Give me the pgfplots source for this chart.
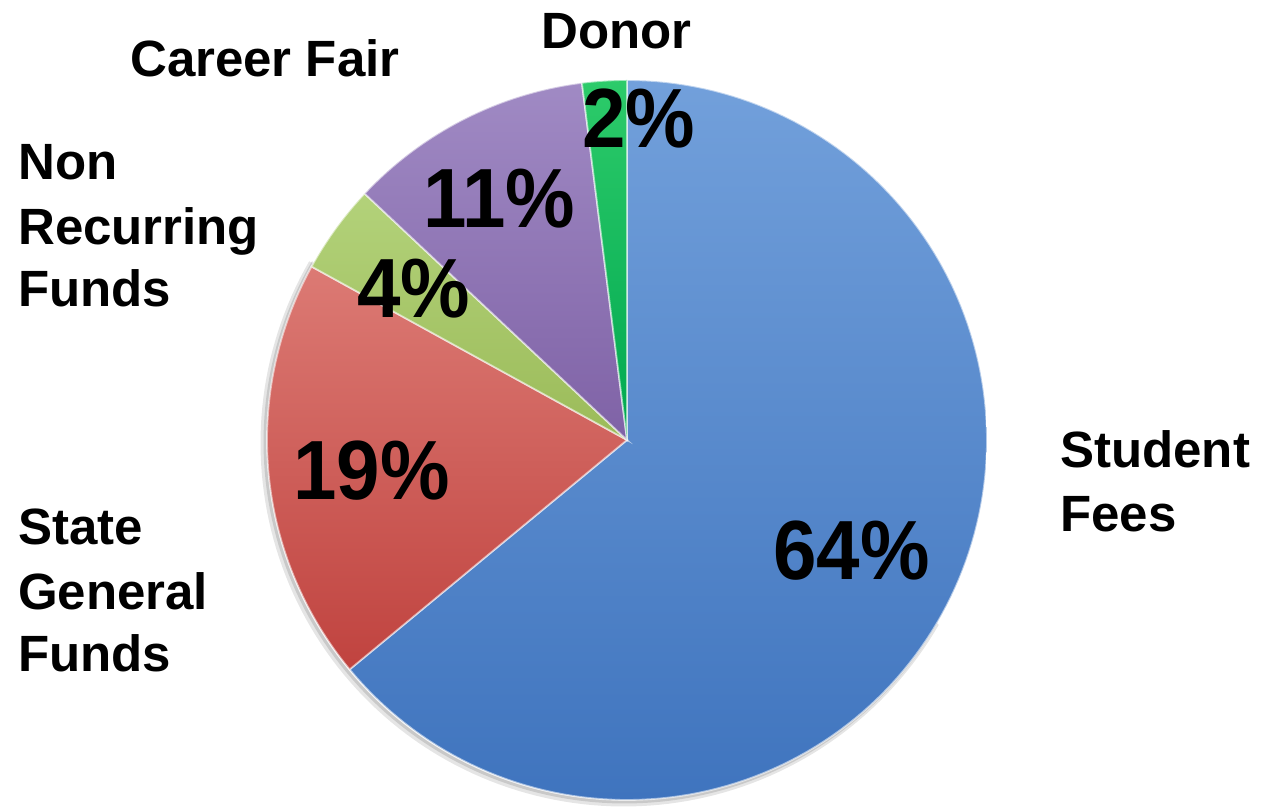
\documentclass[border=0pt]{standalone}
\usepackage{pgfplots}
\pgfplotsset{compat=1.18}
\usepackage{pgfplotstable}
\usepackage{fontspec}
\setmainfont{Liberation Sans}
\usepackage{graphicx}

\pgfplotstableread{
name pct
StudentFees 64
StateGeneralFunds 19
NonRecurringFunds 4
CareerFair 11
Donor 2
}\piedata

\pgfplotstablegetelem{0}{pct}\of\piedata\edef\pA{\pgfplotsretval}
\pgfplotstablegetelem{1}{pct}\of\piedata\edef\pB{\pgfplotsretval}
\pgfplotstablegetelem{2}{pct}\of\piedata\edef\pC{\pgfplotsretval}
\pgfplotstablegetelem{3}{pct}\of\piedata\edef\pD{\pgfplotsretval}
\pgfplotstablegetelem{4}{pct}\of\piedata\edef\pE{\pgfplotsretval}

\pgfmathsetmacro\aA{90}
\pgfmathsetmacro\aB{\aA-3.6*\pA}
\pgfmathsetmacro\aC{\aB-3.6*\pB}
\pgfmathsetmacro\aD{\aC-3.6*\pC}
\pgfmathsetmacro\aE{\aD-3.6*\pD}
\pgfmathsetmacro\aF{\aE-3.6*\pE}

\definecolor{blueT}{HTML}{72A0DB}
\definecolor{blueB}{HTML}{3F74BE}
\definecolor{redT}{HTML}{DC7A74}
\definecolor{redB}{HTML}{C0433F}
\definecolor{greenT}{HTML}{B3D27A}
\definecolor{greenB}{HTML}{9BBB59}
\definecolor{purpT}{HTML}{A08AC4}
\definecolor{purpB}{HTML}{7F62A6}
\definecolor{donT}{HTML}{2DCB6A}
\definecolor{donB}{HTML}{00A850}

\newcommand{\pctfont}{\fontsize{84}{84}\selectfont\bfseries}
\newcommand{\labfont}{\fontsize{51}{63}\selectfont\bfseries}

\begin{document}
\begin{tikzpicture}
\begin{axis}[x=1pt,y=1pt,xmin=0,xmax=1264,ymin=0,ymax=804,hide axis,clip=false]
\draw[draw=none] (0,0) rectangle (1264,804);
% soft shadow
\addplot[draw=black, draw opacity=0.10, line width=7, domain=150:330, samples=120] ({624+360*cos(x)},{361+360*sin(x)});
\addplot[draw=black, draw opacity=0.12, line width=3, domain=150:330, samples=120] ({625+360*cos(x)},{362+360*sin(x)});
% slices
\addplot[top color=blueT, bottom color=blueB, draw=white, draw opacity=0.55, line width=1.8, domain=\aB:\aA, samples=150] ({627+360*cos(x)},{364+360*sin(x)}) -- (627,364) -- cycle;
\addplot[top color=redT, bottom color=redB, draw=white, draw opacity=0.55, line width=1.8, domain=\aC:\aB, samples=60] ({627+360*cos(x)},{364+360*sin(x)}) -- (627,364) -- cycle;
\addplot[top color=greenT, bottom color=greenB, draw=white, draw opacity=0.55, line width=1.8, domain=\aD:\aC, samples=20] ({627+360*cos(x)},{364+360*sin(x)}) -- (627,364) -- cycle;
\addplot[top color=purpT, bottom color=purpB, draw=white, draw opacity=0.55, line width=1.8, domain=\aE:\aD, samples=40] ({627+360*cos(x)},{364+360*sin(x)}) -- (627,364) -- cycle;
\addplot[top color=donT, bottom color=donB, draw=white, draw opacity=0.55, line width=1.8, domain=\aF:\aE, samples=10] ({627+360*cos(x)},{364+360*sin(x)}) -- (627,364) -- cycle;
% percentages
\node[anchor=base west, inner sep=0] at (773,224) {\scalebox{0.93}[1]{\pctfont 64\%}};
\node[anchor=base west, inner sep=0] at (293,304) {\scalebox{0.93}[1]{\pctfont 19\%}};
\node[anchor=base west, inner sep=0] at (357,486) {\scalebox{0.93}[1]{\pctfont 4\%}};
\node[anchor=base west, inner sep=0] at (423,576) {\scalebox{0.93}[1]{\pctfont 11\%}};
\node[anchor=base west, inner sep=0] at (582,656) {\scalebox{0.93}[1]{\pctfont 2\%}};
% labels
\node[anchor=base west, inner sep=0] at (541,755) {\labfont Donor};
\node[anchor=base west, inner sep=0] at (130,727) {\labfont Career Fair};
\node[anchor=base west, inner sep=0] at (18,624) {\labfont Non};
\node[anchor=base west, inner sep=0] at (18,559) {\labfont Recurring};
\node[anchor=base west, inner sep=0] at (18,497) {\labfont Funds};
\node[anchor=base west, inner sep=0] at (18,259) {\labfont State};
\node[anchor=base west, inner sep=0] at (18,194) {\labfont General};
\node[anchor=base west, inner sep=0] at (18,132) {\labfont Funds};
\node[anchor=base west, inner sep=0] at (1060,336) {\labfont Student};
\node[anchor=base west, inner sep=0] at (1060,272) {\labfont Fees};
\end{axis}
\end{tikzpicture}
\end{document}
